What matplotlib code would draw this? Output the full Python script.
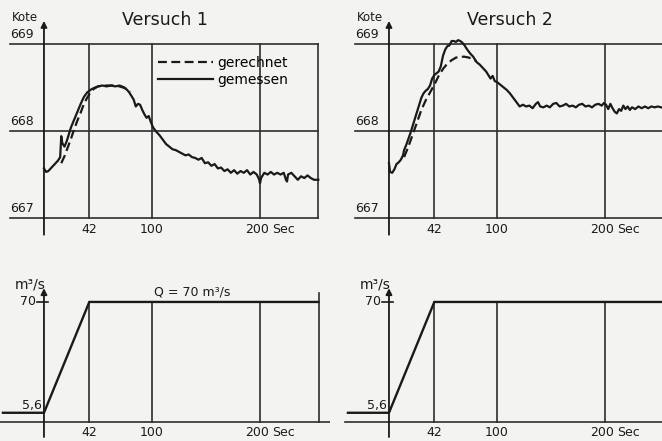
import matplotlib.pyplot as plt

plt.rcParams["font.family"] = "DejaVu Sans"

# ---- data ----
# Versuch 1, Kote (m) over time (Sec)
v1_meas_t = [0, 2, 4, 7, 10, 13, 15, 16, 17, 19, 21, 23, 25, 28, 31, 34, 37, 40, 43, 46,
             50, 54, 58, 62, 66, 70, 74, 77, 79, 81, 83, 85, 87, 89, 91, 93, 95, 97, 99, 101,
             104, 107, 110, 113, 116, 119, 122, 125, 128, 131, 134, 137, 140, 143, 146, 149,
             152, 155, 158, 161, 164, 167, 170, 173, 176, 179, 182, 185, 188, 191, 194, 197,
             199, 200, 201, 204, 207, 210, 213, 216, 219, 222, 224, 225, 226, 229, 232, 235,
             238, 241, 244, 247, 250, 254]
v1_meas = [667.57, 667.53, 667.54, 667.58, 667.62, 667.66, 667.70, 667.94, 667.86, 667.82,
           667.88, 667.96, 668.04, 668.13, 668.22, 668.31, 668.39, 668.44, 668.47, 668.49,
           668.51, 668.52, 668.51, 668.52, 668.51, 668.52, 668.50, 668.47, 668.44, 668.40,
           668.36, 668.28, 668.31, 668.30, 668.24, 668.19, 668.15, 668.17, 668.10, 668.04,
           667.99, 667.95, 667.90, 667.85, 667.82, 667.79, 667.78, 667.76, 667.74, 667.72,
           667.73, 667.70, 667.69, 667.67, 667.69, 667.63, 667.64, 667.60, 667.62, 667.57,
           667.58, 667.54, 667.56, 667.52, 667.55, 667.51, 667.54, 667.52, 667.55, 667.50,
           667.53, 667.50, 667.45, 667.40, 667.46, 667.52, 667.50, 667.53, 667.50, 667.52,
           667.50, 667.52, 667.44, 667.42, 667.50, 667.52, 667.48, 667.44, 667.48, 667.46,
           667.49, 667.46, 667.44, 667.44]
v1_calc_t = [16, 19, 22, 25, 28, 31, 34, 37, 40, 43, 46, 50, 55, 60, 65, 70, 75, 80]
v1_calc = [667.63, 667.71, 667.81, 667.91, 668.02, 668.12, 668.21, 668.31, 668.38, 668.44,
           668.48, 668.51, 668.52, 668.52, 668.52, 668.51, 668.49, 668.45]

# Versuch 2
v2_meas_t = [0, 1, 3, 5, 7, 9, 11, 13, 14, 16, 18, 20, 22, 24, 26, 28, 30, 32, 34, 36, 38,
             40, 42, 44, 46, 48, 50, 52, 54, 56, 58, 60, 62, 64, 66, 68, 70, 72, 75, 78, 81,
             84, 87, 90, 92, 94, 96, 98, 100, 103, 106, 109, 112, 115, 118, 121, 124, 127,
             130, 133, 136, 138, 140, 143, 146, 149, 152, 155, 158, 161, 164, 167, 170, 173,
             176, 179, 182, 185, 188, 191, 194, 197, 199, 201, 203, 205, 207, 209, 211, 213,
             215, 217, 219, 221, 223, 225, 228, 231, 234, 237, 240, 243, 246, 249, 252]
v2_meas = [667.63, 667.53, 667.52, 667.56, 667.62, 667.64, 667.67, 667.72, 667.78, 667.84,
           667.91, 667.98, 668.06, 668.14, 668.22, 668.30, 668.38, 668.43, 668.46, 668.48,
           668.52, 668.60, 668.64, 668.66, 668.68, 668.74, 668.86, 668.93, 668.97, 668.98,
           669.03, 669.03, 669.02, 669.04, 669.03, 669.01, 668.98, 668.94, 668.89, 668.85,
           668.79, 668.76, 668.72, 668.68, 668.64, 668.60, 668.63, 668.57, 668.56, 668.53,
           668.50, 668.47, 668.43, 668.38, 668.33, 668.28, 668.30, 668.28, 668.29, 668.26,
           668.31, 668.33, 668.28, 668.27, 668.29, 668.27, 668.31, 668.32, 668.28, 668.29,
           668.31, 668.28, 668.29, 668.27, 668.30, 668.31, 668.28, 668.29, 668.27, 668.30,
           668.31, 668.29, 668.32, 668.30, 668.25, 668.31, 668.26, 668.22, 668.20, 668.25,
           668.23, 668.29, 668.25, 668.28, 668.24, 668.27, 668.25, 668.28, 668.26, 668.28,
           668.26, 668.28, 668.27, 668.28, 668.27]
v2_calc_t = [14, 18, 22, 26, 30, 34, 38, 42, 46, 50, 54, 58, 62, 66, 70, 74, 78, 81]
v2_calc = [667.70, 667.82, 667.96, 668.10, 668.24, 668.35, 668.44, 668.53, 668.63, 668.71,
           668.77, 668.81, 668.84, 668.85, 668.85, 668.84, 668.82, 668.80]

# inflow Q (m3/s), same for both tests
q_t = [-38, 0, 42, 254]
q_val = [5.6, 5.6, 70, 70]

grid_t = [42, 100, 200]
kote_levels = [667, 668, 669]

INK = '#1a1a1a'
GRID = '#2e2e2e'
BG = '#f3f3f1'

fig = plt.figure(figsize=(6.62, 4.41), dpi=100, facecolor=BG)

# panel rectangles in figure fractions (left/right columns, top/bottom rows)
W, H = 662.0, 441.0
ax_tl = fig.add_axes([0, 1 - 240 / H, 330 / W, 240 / H])
ax_tr = fig.add_axes([330 / W, 1 - 240 / H, 332 / W, 240 / H])
ax_bl = fig.add_axes([0, 0, 330 / W, 201 / H])
ax_br = fig.add_axes([330 / W, 0, 332 / W, 201 / H])

xlim_left = (-40.7, 264.8)
xlim_right = (-54.6, 252.8)


def yaxis_arrow(ax, y0, y1):
    ax.annotate('', xy=(0, y1), xytext=(0, y0), annotation_clip=False,
                arrowprops=dict(arrowstyle='-|>', lw=1.3, color=INK,
                                mutation_scale=9, shrinkA=0, shrinkB=0))


def draw_kote(ax, xlim, title, meas_t, meas, calc_t, calc, right_border):
    ax.axis('off')
    ax.set_xlim(*xlim)
    ax.set_ylim(666.75, 669.5)
    t_end = 254 if right_border else xlim[1]
    for lev in kote_levels:
        ax.plot([-31, t_end], [lev, lev], color=GRID, lw=1.2)
        ax.text(-9, lev + 0.11, str(lev), ha='right', va='center', fontsize=9, color=INK)
    for t in grid_t:
        ax.plot([t, t], [667, 669], color=GRID, lw=1.2)
    if right_border:
        ax.plot([254, 254], [667, 669], color=GRID, lw=1.2)
    yaxis_arrow(ax, 666.81, 669.26)
    ax.text(-17.5, 669.3, 'Kote', ha='center', va='center', fontsize=8.5, color=INK)
    ax.text(112, 669.27, title, ha='center', va='center', fontsize=12.5, color=INK)
    for t in grid_t:
        ax.text(t - (3 if t == 200 else 0), 666.87, str(t), ha='center', va='center',
                fontsize=9, color=INK)
    ax.text(211, 666.87, 'Sec', ha='left', va='center', fontsize=9, color=INK)
    ax.plot(calc_t, calc, color=INK, lw=1.6, dashes=(4, 2), label='gerechnet')
    ax.plot(meas_t, meas, color=INK, lw=1.6, label='gemessen')


def draw_q(ax, xlim, right_border, q_label):
    ax.axis('off')
    ax.set_xlim(*xlim)
    ax.set_ylim(-10.8, 106)
    ax.plot([-40.7, xlim[1]], [0, 0], color=GRID, lw=1.2)
    for t in grid_t:
        ax.plot([t, t], [0, 70], color=GRID, lw=1.2)
    if right_border:
        ax.plot([254.6, 254.6], [0, 75], color=GRID, lw=1.2)
    yaxis_arrow(ax, -8.5, 78)
    ax.plot([-6, 4], [70, 70], color=INK, lw=1.2)
    ax.text(-7, 70, '70', ha='right', va='center', fontsize=9, color=INK)
    ax.text(-11, 10, '5,6', ha='center', va='center', fontsize=9, color=INK)
    ax.text(-13, 80, 'm³/s', ha='center', va='center', fontsize=10, color=INK)
    for t in grid_t:
        ax.text(t - (3 if t == 200 else 0), -5.6, str(t), ha='center', va='center',
                fontsize=9, color=INK)
    ax.text(211, -5.6, 'Sec', ha='left', va='center', fontsize=9, color=INK)
    if q_label:
        ax.text(137, 76, 'Q = 70 m³/s', ha='center', va='center', fontsize=9, color=INK)
    ax.plot(q_t, q_val, color=INK, lw=1.7, clip_on=True)


draw_kote(ax_tl, xlim_left, 'Versuch 1', v1_meas_t, v1_meas, v1_calc_t, v1_calc, True)
draw_kote(ax_tr, xlim_right, 'Versuch 2', v2_meas_t, v2_meas, v2_calc_t, v2_calc, False)
draw_q(ax_bl, xlim_left, True, True)
draw_q(ax_br, xlim_right, False, False)

# legend only in the first panel, no frame
ax_tl.legend(loc='upper left', bbox_to_anchor=(0.478, 0.767), frameon=False,
             fontsize=10, handlelength=4.0, handletextpad=0.3, labelspacing=0.2,
             borderpad=0, borderaxespad=0)

plt.savefig('out.png', dpi=100, facecolor=BG)
